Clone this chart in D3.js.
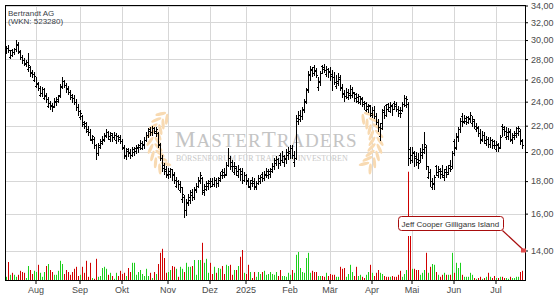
<!DOCTYPE html>
<html>
<head>
<meta charset="utf-8">
<script src="https://cdn.jsdelivr.net/npm/d3@7"></script>
<style>
html, body { margin: 0; padding: 0; background: #fff; }
svg { display: block; font-family: Arial, "Liberation Sans", sans-serif; }
</style>
</head>
<body>
<div id="chart"></div>
<script>
const titleLines = ["Bertrandt AG", "(WKN: 523280)"];
const firstDay = [2024, 6, 11], lastDay = [2025, 6, 18];
const holidays = ["2024-12-24", "2024-12-25", "2024-12-26", "2024-12-31", "2025-01-01", "2025-04-18", "2025-04-21", "2025-05-01"];
const monthLabels = ["Aug", "Sep", "Okt", "Nov", "Dez", "2025", "Feb", "Mär", "Apr", "Mai", "Jun", "Jul"];
const priceTicks = [14, 16, 18, 20, 22, 24, 26, 28, 30, 32, 34];

// daily bars [open, high, low, close]
const ohlc = [
  // Jul 2024
  [29.0,29.4,28.6,29.2],[29.2,29.5,28.7,28.9],[28.2,28.9,28.1,28.4],[28.9,29.0,28.3,28.7],[28.7,29.1,28.5,29.0],
  [29.0,30.0,28.8,29.6],[29.5,29.8,28.6,28.8],[28.7,28.9,28.0,28.2],[28.2,28.4,27.6,27.9],[27.9,28.1,27.4,27.6],
  [27.5,27.9,27.3,27.7],[27.0,28.6,26.8,27.4],[27.2,27.3,26.3,26.6],[26.7,26.9,26.2,26.5],[26.0,26.7,25.9,26.3],
  // Aug
  [25.4,26.2,25.3,25.6],[25.7,25.8,25.0,25.2],[24.6,25.4,24.5,24.8],[24.8,25.3,24.5,25.1],[24.3,25.2,24.2,24.5],
  [24.6,24.8,24.0,24.2],[23.6,24.4,23.5,23.9],[23.9,24.1,23.4,23.6],[23.7,23.9,23.2,23.5],[23.6,24.3,23.5,24.1],
  [24.0,24.4,23.7,24.2],[24.1,24.6,24.0,24.5],[24.6,25.6,24.4,25.4],[25.3,26.2,25.2,25.9],[25.9,26.0,25.3,25.5],
  [25.5,25.7,24.9,25.1],[25.2,25.4,24.7,24.9],[24.9,25.0,24.2,24.4],[24.6,24.7,24.0,24.3],[24.3,24.6,23.8,24.0],
  [24.0,24.2,23.3,23.5],[23.5,23.8,22.9,23.2],
  // Sep
  [22.7,23.3,22.5,23.0],[22.8,22.9,22.0,22.1],[22.3,22.4,21.8,22.0],[22.2,22.3,21.5,21.6],[21.7,22.0,21.3,21.5],
  [21.5,21.7,20.9,21.0],[20.9,21.3,20.7,21.2],[21.0,21.1,20.3,20.5],[20.5,20.6,19.5,19.9],[19.9,20.7,19.8,20.5],
  [20.4,21.0,20.3,20.8],[20.7,21.2,20.6,21.0],[20.9,21.4,20.8,21.3],[21.2,21.7,21.1,21.5],[21.5,21.6,21.0,21.2],
  [21.0,21.5,20.8,21.3],[21.4,21.4,20.8,21.1],[21.1,21.5,21.0,21.3],[20.9,21.4,20.7,21.2],[21.2,21.3,20.8,21.0],
  [21.1,21.3,20.7,20.8],
  // Okt
  [20.8,21.0,20.2,20.4],[20.3,20.5,19.6,19.8],[19.7,20.3,19.5,20.1],[20.2,20.3,19.7,19.9],[20.0,20.2,19.6,19.8],
  [19.8,20.4,19.7,20.2],[20.0,20.4,19.8,20.3],[20.1,20.5,19.9,20.4],[20.3,20.6,20.0,20.5],[20.4,20.9,20.2,20.7],
  [20.3,20.8,20.2,20.6],[20.5,21.1,20.3,20.9],[20.9,21.5,20.8,21.3],[21.3,21.8,21.1,21.6],[21.7,21.9,21.3,21.5],
  [21.5,22.0,21.3,21.8],[21.8,21.9,21.4,21.6],[21.4,21.9,21.2,21.7],[21.4,21.5,20.4,20.6],[20.5,20.7,19.4,19.6],
  [19.6,19.8,18.7,18.9],[19.1,19.2,18.5,18.7],[18.8,19.0,18.3,18.5],
  // Nov
  [18.4,18.9,18.2,18.7],[18.5,18.9,18.3,18.8],[18.8,18.8,18.1,18.4],[18.5,18.6,17.9,18.1],[17.7,18.3,17.6,18.0],
  [18.0,18.1,17.5,17.8],[17.4,18.0,17.3,17.6],[16.9,17.6,16.7,17.2],[17.0,17.1,15.8,16.2],[16.2,16.9,15.9,16.7],
  [16.6,17.2,16.5,17.0],[16.8,17.4,16.6,17.1],[17.3,17.5,16.8,17.0],[17.0,17.6,16.9,17.5],[17.4,17.9,17.3,17.7],
  [17.7,18.3,17.6,18.1],[18.0,18.6,17.9,18.4],[18.2,18.3,17.2,17.4],[17.3,17.8,17.1,17.7],[17.5,18.0,17.4,17.9],
  [17.7,18.1,17.5,17.9],
  // Dez
  [18.0,18.2,17.6,17.7],[18.0,18.2,17.7,17.8],[17.8,18.3,17.7,18.1],[18.1,18.2,17.6,17.9],[17.9,18.3,17.7,18.2],
  [18.1,18.6,18.0,18.4],[18.7,18.8,18.2,18.4],[18.6,18.9,18.3,18.4],[18.5,19.3,18.4,19.1],[19.1,20.3,19.0,19.6],
  [19.6,19.7,18.8,19.0],[19.3,19.4,18.7,19.0],[18.6,19.3,18.5,18.9],[19.0,19.0,18.4,18.7],[18.4,19.1,18.3,18.8],
  [18.8,18.9,18.1,18.5],[18.7,18.9,17.9,18.1],[18.1,18.6,18.0,18.4],
  // Jan 2025
  [18.4,18.5,17.8,18.0],[18.1,18.2,17.6,17.7],[17.6,18.1,17.5,17.9],[18.1,18.3,17.7,17.9],[18.0,18.2,17.5,17.7],
  [17.6,18.0,17.5,17.9],[17.9,18.4,17.8,18.2],[18.0,18.4,17.9,18.3],[18.5,18.6,18.0,18.2],[18.2,18.7,18.1,18.5],
  [18.4,18.9,18.3,18.7],[18.4,18.8,18.2,18.7],[18.5,18.9,18.3,18.8],[18.7,19.2,18.6,19.0],[19.0,19.6,18.8,19.4],
  [19.2,19.7,19.1,19.5],[19.5,19.6,18.9,19.2],[19.8,19.9,19.1,19.4],[19.4,20.1,19.3,19.7],[19.3,19.8,19.0,19.6],
  [19.5,20.2,19.2,20.0],[19.8,20.4,19.5,20.1],
  // Feb
  [19.9,20.5,19.6,20.3],[20.3,20.5,19.6,19.8],[19.3,20.1,19.0,19.6],[19.6,22.9,19.5,22.6],[22.4,23.2,22.1,22.9],
  [22.5,23.3,22.4,22.8],[22.8,23.5,22.5,23.3],[23.4,24.2,23.1,24.0],[24.1,25.2,23.9,25.0],[25.1,26.8,24.9,26.5],
  [26.4,27.3,26.0,26.9],[27.0,27.2,26.3,26.6],[27.2,27.4,26.4,26.8],[26.9,27.1,26.2,26.4],[25.3,26.2,25.0,25.8],
  [25.9,26.8,25.5,26.6],[27.3,27.4,26.6,27.0],[27.2,27.5,26.7,26.9],[26.5,27.3,26.3,27.0],[27.0,27.1,26.2,26.7],
  // Mär
  [26.8,27.2,26.0,26.3],[26.5,26.9,25.0,26.2],[26.2,26.7,25.6,25.8],[25.4,26.4,25.2,25.9],[25.7,26.6,25.5,26.2],
  [26.1,26.4,25.0,25.2],[25.3,25.6,24.4,24.7],[24.8,25.0,24.1,24.5],[24.5,25.2,24.3,24.9],[24.4,25.1,24.2,24.8],
  [24.6,25.5,24.3,25.1],[24.6,25.3,24.4,24.9],[24.8,24.9,24.1,24.3],[24.7,24.8,24.0,24.4],[24.1,24.7,23.9,24.5],
  [24.0,24.5,23.8,24.3],[24.2,24.4,23.6,23.8],[24.0,24.1,23.4,23.9],[23.3,24.0,23.2,23.6],[23.4,23.8,23.1,23.7],
  [23.6,23.7,22.8,23.0],
  // Apr
  [22.9,23.5,22.7,23.3],[23.3,23.6,22.6,22.8],[22.8,23.0,22.1,22.3],[22.3,22.5,21.6,21.9],[21.2,22.2,20.9,21.8],
  [22.2,23.4,21.7,23.1],[23.3,23.6,22.6,22.9],[23.7,23.8,22.8,23.4],[23.8,23.9,23.2,23.5],[23.2,24.0,23.1,23.6],
  [23.7,23.8,22.9,23.4],[23.9,24.1,23.4,23.6],[23.8,24.0,23.2,23.4],[23.4,23.6,22.8,23.0],[23.3,23.5,22.7,23.0],
  [23.3,24.0,23.2,23.8],[23.8,24.6,23.6,24.3],[23.7,24.5,23.5,24.2],[23.8,24.0,19.1,19.6],[20.2,20.4,19.2,19.8],
  // Mai
  [19.4,20.4,19.3,19.9],[20.0,20.1,19.0,19.6],[19.7,20.0,19.1,19.3],[19.5,19.9,18.9,19.2],[19.4,20.3,19.3,20.0],
  [19.8,20.6,19.6,20.2],[20.0,21.5,19.9,20.6],[20.4,20.5,18.8,19.0],[18.3,19.0,18.2,18.6],[18.6,18.8,17.7,18.0],
  [17.6,18.2,17.5,17.9],[17.8,18.4,17.5,18.3],[19.0,19.1,18.4,18.6],[18.4,19.0,18.3,18.7],[18.8,18.9,18.2,18.5],
  [18.7,19.1,18.3,18.4],[18.3,18.8,18.1,18.6],[18.8,19.0,18.3,18.5],[18.6,19.1,18.5,18.9],[19.1,19.4,18.7,18.8],
  [19.0,20.1,18.9,19.9],
  // Jun
  [20.8,21.0,19.8,20.3],[20.4,21.4,20.2,21.2],[21.1,21.9,20.8,21.7],[21.7,22.6,21.5,22.4],[22.8,23.0,22.0,22.4],
  [22.3,22.9,22.2,22.6],[22.4,22.8,22.1,22.7],[22.3,22.8,22.2,22.6],[22.5,23.1,22.3,22.9],[22.2,22.8,22.0,22.5],
  [22.4,22.5,21.8,22.0],[21.7,22.2,21.6,21.9],[21.8,22.0,21.2,21.4],[21.4,21.7,20.7,21.0],[20.9,21.6,20.8,21.3],
  [21.3,21.5,20.7,20.9],[20.7,21.2,20.5,21.0],[21.0,21.1,20.4,20.6],[20.6,21.1,20.4,20.9],[20.9,21.0,20.3,20.5],
  [20.8,20.9,20.3,20.5],
  // Jul
  [20.2,20.8,20.1,20.5],[20.6,20.7,20.1,20.3],[20.4,21.3,20.3,21.1],[22.0,22.1,21.2,21.7],[21.9,22.0,21.3,21.6],
  [21.1,21.9,21.0,21.5],[21.2,21.8,21.0,21.6],[21.5,21.7,20.8,21.0],[20.9,21.4,20.7,21.3],[21.1,21.6,21.0,21.4],
  [21.3,21.9,21.1,21.8],[21.4,22.0,21.3,21.8],[21.6,21.7,20.6,20.8],[20.9,21.0,20.3,20.5]
];

// daily volume, thousand shares
const volumes = [
  8,45,13,18,13,8,13,23,20,18,5,35,25,15,23,
  20,38,18,8,20,35,40,25,20,13,13,23,48,40,15,25,20,13,20,28,33,10,
  13,33,18,48,8,43,5,3,53,8,10,30,33,28,13,18,10,3,18,10,23,
  15,18,10,30,20,43,43,13,20,25,15,10,28,10,18,5,20,15,40,68,78,55,18,
  20,25,35,33,28,8,33,28,20,43,33,33,35,50,13,50,50,93,43,53,18,
  43,15,33,18,30,28,35,15,38,35,38,13,25,25,35,58,75,18,
  15,38,20,5,20,8,20,15,20,23,13,15,20,15,13,20,10,25,10,10,8,18,
  13,25,18,63,70,30,20,18,55,68,18,23,20,20,10,10,10,8,18,10,
  15,13,13,8,8,33,28,30,8,15,38,20,10,33,10,13,8,5,13,20,38,
  18,10,18,25,18,15,10,8,8,8,10,8,8,13,23,8,15,25,110,110,
  28,28,25,25,13,18,25,68,18,33,40,38,20,13,8,13,18,13,13,13,68,
  18,43,30,43,13,8,8,8,18,13,5,3,5,8,3,5,8,18,8,5,10,
  5,5,8,8,5,5,3,8,5,5,8,8,20,23
];

const signalIndex = 201;
const signalLabel = "Jeff Cooper Gilligans Island";
const signalLevel = 14;

const W = 555, H = 300;
const plot = { left: 5, top: 5, right: 526, bottom: 280 };
const barStep = 2;

// trading days
const fmtDay = d3.utcFormat("%Y-%m-%d");
const dates = d3.utcDay.range(new Date(Date.UTC(...firstDay)), d3.utcDay.offset(new Date(Date.UTC(...lastDay)), 1))
  .filter(d => d.getUTCDay() !== 0 && d.getUTCDay() !== 6 && !holidays.includes(fmtDay(d)));
const keys = dates.map(fmtDay);
const n = Math.min(keys.length, ohlc.length);

const monthStarts = [];
keys.forEach((k, i) => {
  if (i > 0 && k.slice(0, 7) !== keys[i - 1].slice(0, 7)) monthStarts.push(k);
});

const svg = d3.select("#chart").append("svg").attr("width", W).attr("height", H);

const x = d3.scaleBand().domain(keys).range([plot.left, plot.left + keys.length * barStep]);
const cx = k => x(k) + x.bandwidth() / 2;
const y = d3.scaleLog().domain([14, 34]).range([250.5, 5.5]);
const yVol = d3.scaleLinear().domain([0, 110]).range([plot.bottom, 236]);

svg.append("defs").append("clipPath").attr("id", "plotclip").append("rect")
  .attr("x", plot.left).attr("y", plot.top).attr("width", plot.right - plot.left).attr("height", plot.bottom - plot.top);

//Grid
const grid = svg.append("g").attr("stroke", "#d7d7d7").attr("stroke-width", 1);
grid.selectAll(".hg").data(priceTicks).enter().append("line")
  .attr("x1", plot.left).attr("x2", plot.right)
  .attr("y1", d => Math.round(y(d)) + 0.5).attr("y2", d => Math.round(y(d)) + 0.5);
grid.selectAll(".vg").data(monthStarts).enter().append("line")
  .attr("x1", d => cx(d) + 0.5).attr("x2", d => cx(d) + 0.5)
  .attr("y1", plot.top).attr("y2", plot.bottom);

//Watermark
const wm = svg.append("g");
const leafColor = "#f8dab2";
function branch(cxB, cyB, r, a0, a1, flip) {
  d3.range(9).forEach(j => {
    const a = (a0 + (a1 - a0) * j / 8) * Math.PI / 180;
    const px = cxB + r * Math.cos(a), py = cyB + r * Math.sin(a);
    const tang = a * 180 / Math.PI + 90;
    [-35, 35].forEach(tilt => {
      const ang = tang + tilt * flip;
      const off = tilt > 0 ? 4 : -4;
      wm.append("ellipse")
        .attr("cx", px + off * Math.cos(a)).attr("cy", py + off * Math.sin(a))
        .attr("rx", 5.5).attr("ry", 1.6)
        .attr("transform", `rotate(${ang},${px + off * Math.cos(a)},${py + off * Math.sin(a)})`)
        .attr("fill", leafColor);
    });
  });
}
branch(192, 142, 38, 140, 222, 1);
branch(338, 142, 38, -42, 40, -1);

const wmText = wm.append("text").attr("x", 175).attr("y", 147)
  .attr("font-family", "'Liberation Serif', 'DejaVu Serif', serif").attr("fill", "#c4c4c4")
  .attr("letter-spacing", 1);
[["M", 23], ["ASTER", 19], ["T", 23], ["RADERS", 19]].forEach(([t, s]) => {
  wmText.append("tspan").attr("font-size", s).text(t);
});
wm.append("text").attr("x", 176).attr("y", 160.5)
  .attr("font-family", "'Liberation Serif', 'DejaVu Serif', serif").attr("font-size", 8)
  .attr("fill", "#c8c8c8").text("BÖRSENFORUM FÜR TRADER & INVESTOREN");

const chart = svg.append("g").attr("clip-path", "url(#plotclip)");

//Volume
chart.selectAll(".vol").data(keys.slice(0, n)).enter().append("rect")
  .attr("x", d => cx(d)).attr("width", 1)
  .attr("y", (d, i) => yVol(volumes[i]))
  .attr("height", (d, i) => plot.bottom - yVol(volumes[i]))
  .attr("fill", (d, i) => ohlc[i][3] >= ohlc[i][0] ? "#1ccf1c" : "#d00000");

//OHLC bars
chart.append("g").attr("stroke", "#000").attr("stroke-width", 1).attr("fill", "none")
  .selectAll("path").data(keys.slice(0, n)).enter().append("path")
  .attr("d", (k, i) => {
    const [o, h, l, c] = ohlc[i];
    const px = cx(k);
    const yo = Math.round(y(o)) + 0.5, yc = Math.round(y(c)) + 0.5;
    return `M${px + 0.5},${Math.round(y(h))}V${Math.round(y(l)) + 1}M${px - 1},${yo}H${px}M${px + 1},${yc}H${px + 2}`;
  });

//Frame
const frame = svg.append("g").attr("stroke", "#000").attr("stroke-width", 1);
frame.append("line").attr("x1", plot.left + 0.5).attr("x2", plot.left + 0.5).attr("y1", plot.top).attr("y2", plot.bottom + 0.5);
frame.append("line").attr("x1", plot.left).attr("x2", plot.right).attr("y1", plot.top + 0.5).attr("y2", plot.top + 0.5);

//Axes
const priceFormat = d => d3.format(".2f")(d).replace(".", ",");
const yAxis = svg.append("g").attr("transform", `translate(${plot.right - 1},0)`)
  .call(d3.axisRight(y).tickValues(priceTicks).tickFormat(priceFormat).tickSize(3).tickSizeOuter(0));
yAxis.select(".domain").remove();
svg.append("line").attr("x1", plot.right - 0.5).attr("x2", plot.right - 0.5)
  .attr("y1", plot.top).attr("y2", plot.bottom + 1).attr("stroke", "#000");

const xAxis = svg.append("g").attr("transform", `translate(0,${plot.bottom})`)
  .call(d3.axisBottom(x).tickValues(monthStarts).tickFormat((d, i) => monthLabels[i]).tickSize(4).tickSizeOuter(0));
xAxis.select(".domain").remove();
svg.append("line").attr("x1", plot.left).attr("x2", plot.right)
  .attr("y1", plot.bottom + 0.5).attr("y2", plot.bottom + 0.5).attr("stroke", "#000");

svg.selectAll(".tick text").attr("font-size", 9).attr("fill", "#4a4a4a")
  .attr("font-family", "Arial, 'Liberation Sans', sans-serif");
svg.selectAll(".tick line").attr("stroke", "#000");

//Title
svg.append("g").selectAll("text").data(titleLines).enter().append("text")
  .attr("x", 8).attr("y", (d, i) => 16 + i * 8)
  .attr("font-size", 8).attr("fill", "#3a3f4a").text(d => d);

//Signal annotation
const sKey = keys[signalIndex];
const sx = cx(sKey) + 0.5;
const sLow = y(ohlc[signalIndex][2]);
const box = { x: sx - 10, y: 216.5, w: 105, h: 14 };
svg.append("line").attr("x1", sx).attr("x2", sx).attr("y1", sLow + 7).attr("y2", box.y)
  .attr("stroke", "#cc0000").attr("stroke-width", 1);
svg.append("rect").attr("x", box.x).attr("y", box.y).attr("width", box.w).attr("height", box.h)
  .attr("rx", 3).attr("fill", "#fff").attr("stroke", "#a80d0d").attr("stroke-width", 1);
svg.append("text").attr("x", box.x + 3).attr("y", box.y + 10)
  .attr("font-size", 8).attr("fill", "#333").text(signalLabel);
const ly = y(signalLevel);
svg.append("line").attr("x1", box.x + box.w - 1).attr("y1", box.y + box.h)
  .attr("x2", plot.right - 2).attr("y2", ly)
  .attr("stroke", "#a80d0d").attr("stroke-width", 1.2);
svg.append("rect").attr("x", plot.right - 5).attr("y", ly - 2).attr("width", 5).attr("height", 4)
  .attr("fill", "#e04848");
</script>
</body>
</html>
